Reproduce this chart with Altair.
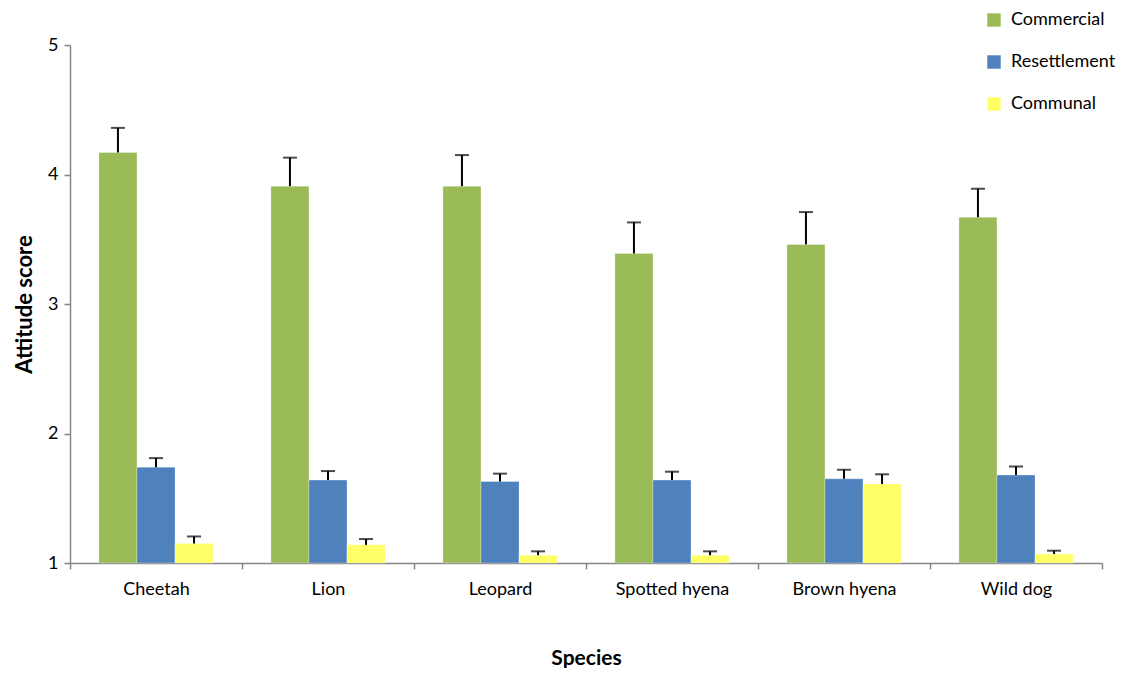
import altair as alt
import pandas as pd

species = ["Cheetah", "Lion", "Leopard", "Spotted hyena", "Brown hyena", "Wild dog"]
groups = ["Commercial", "Resettlement", "Communal"]
colors = ["#9BBB59", "#4F81BD", "#FFFF66"]

commercial = [4.17, 3.91, 3.91, 3.39, 3.46, 3.67]
commercial_err = [0.19, 0.22, 0.24, 0.24, 0.25, 0.22]
resettlement = [1.74, 1.64, 1.63, 1.64, 1.65, 1.68]
resettlement_err = [0.07, 0.07, 0.06, 0.065, 0.07, 0.065]
communal = [1.15, 1.14, 1.06, 1.06, 1.61, 1.07]
communal_err = [0.055, 0.045, 0.03, 0.03, 0.075, 0.025]

rows = []
for g, vals, errs in [("Commercial", commercial, commercial_err),
                      ("Resettlement", resettlement, resettlement_err),
                      ("Communal", communal, communal_err)]:
    for s, v, e in zip(species, vals, errs):
        rows.append({"Species": s, "Group": g, "Score": v, "Hi": round(v + e, 3)})
df = pd.DataFrame(rows)

FONT = "Lato"
W, H = 1032, 518

x = alt.X("Species:N", sort=species, title="Species",
          scale=alt.Scale(paddingInner=0, paddingOuter=0),
          axis=alt.Axis(labelAngle=0, tickBand="extent", labelFontSize=18,
                        labelFont=FONT, labelColor="#000", labelPadding=11,
                        titleFontSize=21, titleFont=FONT, titleFontWeight="bold",
                        titleColor="#000", titlePadding=49,
                        domainColor="#868686", tickColor="#868686",
                        tickSize=6, domainWidth=1.5, tickWidth=1.5))
xo = alt.XOffset("Group:N", sort=groups,
                 scale=alt.Scale(paddingInner=0, paddingOuter=0.76))
y = alt.Y("Score:Q", title="Attitude score",
          scale=alt.Scale(domain=[1, 5], zero=False, nice=False),
          axis=alt.Axis(values=[1, 2, 3, 4, 5], format="d", grid=False,
                        labelFontSize=18, labelFont=FONT, labelColor="#000",
                        labelPadding=6, tickSize=6,
                        titleFontSize=22, titleFont=FONT, titleFontWeight="bold",
                        titleColor="#000", titlePadding=11,
                        domainColor="#868686", tickColor="#868686",
                        domainWidth=1.5, tickWidth=1.5))
color = alt.Color("Group:N", sort=groups,
                  scale=alt.Scale(domain=groups, range=colors),
                  legend=alt.Legend(title=None, orient="none", legendX=915, legendY=-34,
                                    symbolType="square", symbolSize=180,
                                    symbolStrokeWidth=0, labelFontSize=18,
                                    labelFont=FONT, labelColor="#000",
                                    rowPadding=24, labelOffset=8))

base = alt.Chart(df)

bars = base.mark_bar(stroke="#ffffff", strokeWidth=0.6, strokeOpacity=0.5).encode(
    x=x, xOffset=xo, y=y, y2=alt.datum(1), color=color)

err = base.mark_rule(color="#000", strokeWidth=2).encode(
    x=alt.X("Species:N", sort=species), xOffset=xo,
    y="Score:Q", y2="Hi:Q")

cap = base.mark_tick(color="#000", thickness=2, size=14).encode(
    x=alt.X("Species:N", sort=species), xOffset=xo,
    y="Hi:Q")

chart = alt.layer(bars, err, cap).properties(
    width=W, height=H,
    background="white",
    autosize=alt.AutoSizeParams(type="none"),
    padding={"left": 62, "top": 37, "right": 17, "bottom": 105},
).configure_view(stroke=None)

chart.save("out.html", embed_options={"renderer": "svg", "actions": False})
